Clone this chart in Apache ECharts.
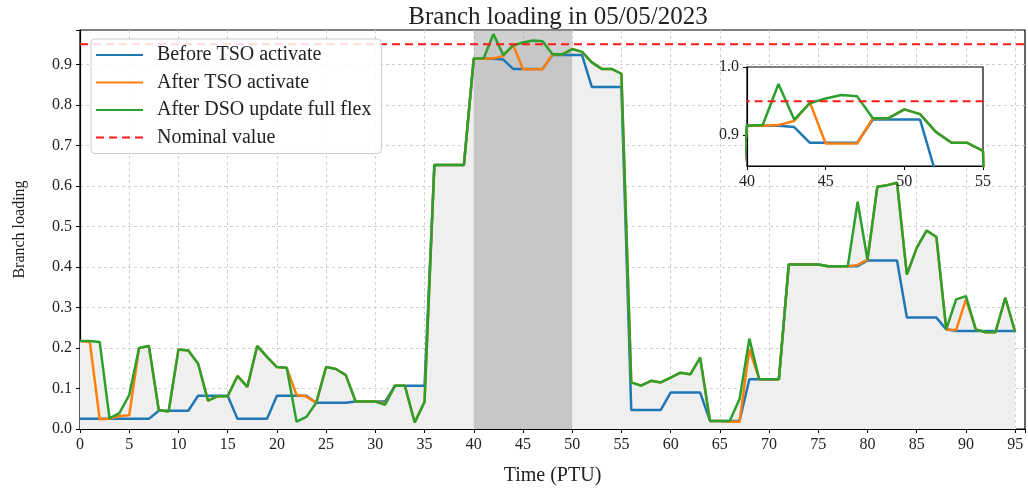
<!DOCTYPE html>
<html>
<head>
<meta charset="utf-8">
<script src="https://cdn.jsdelivr.net/npm/echarts@6/dist/echarts.min.js"></script>
<style>
html, body { margin: 0; padding: 0; background: #fff; }
#container { width: 1028px; height: 491px; }
</style>
</head>
<body>
<div id="container"></div>
<script>
// PTU index 0..95
var ptu = [];
for (var i = 0; i < 96; i++) { ptu.push(i); }

var beforeTSO = [
    0.025, 0.025, 0.025, 0.025, 0.025, 0.025, 0.025, 0.025, 0.045, 0.045,
    0.045, 0.045, 0.082, 0.082, 0.082, 0.082, 0.025, 0.025, 0.025, 0.025,
    0.082, 0.082, 0.082, 0.082, 0.065, 0.065, 0.065, 0.065, 0.068, 0.068,
    0.068, 0.068, 0.107, 0.107, 0.107, 0.107, 0.652, 0.652, 0.652, 0.652,
    0.914, 0.914, 0.914, 0.912, 0.889, 0.889, 0.889, 0.889, 0.923, 0.923,
    0.923, 0.923, 0.844, 0.844, 0.844, 0.844, 0.047, 0.047, 0.047, 0.047,
    0.090, 0.090, 0.090, 0.090, 0.020, 0.020, 0.020, 0.020, 0.123, 0.123,
    0.123, 0.123, 0.406, 0.406, 0.406, 0.406, 0.402, 0.402, 0.402, 0.402,
    0.416, 0.416, 0.416, 0.416, 0.275, 0.275, 0.275, 0.275, 0.246, 0.242,
    0.242, 0.242, 0.242, 0.242, 0.242, 0.242
];
var afterTSO = [
    0.217, 0.215, 0.024, 0.025, 0.032, 0.034, 0.200, 0.205, 0.047, 0.043,
    0.196, 0.194, 0.161, 0.070, 0.081, 0.081, 0.131, 0.104, 0.205, 0.178,
    0.153, 0.151, 0.084, 0.080, 0.065, 0.153, 0.148, 0.133, 0.068, 0.068,
    0.068, 0.063, 0.107, 0.107, 0.016, 0.067, 0.652, 0.652, 0.652, 0.652,
    0.914, 0.914, 0.915, 0.921, 0.948, 0.888, 0.888, 0.888, 0.925, 0.925,
    0.938, 0.931, 0.905, 0.889, 0.889, 0.877, 0.115, 0.107, 0.119, 0.115,
    0.127, 0.139, 0.135, 0.176, 0.020, 0.020, 0.018, 0.018, 0.197, 0.123,
    0.123, 0.123, 0.406, 0.406, 0.406, 0.406, 0.402, 0.402, 0.402, 0.405,
    0.418, 0.598, 0.602, 0.608, 0.381, 0.447, 0.490, 0.474, 0.246, 0.244,
    0.320, 0.246, 0.239, 0.239, 0.324, 0.239
];
var afterDSO = [
    0.217, 0.217, 0.215, 0.026, 0.039, 0.084, 0.200, 0.205, 0.047, 0.043,
    0.196, 0.194, 0.161, 0.070, 0.081, 0.081, 0.131, 0.104, 0.205, 0.178,
    0.153, 0.151, 0.018, 0.030, 0.065, 0.153, 0.148, 0.133, 0.068, 0.068,
    0.068, 0.060, 0.107, 0.107, 0.016, 0.067, 0.652, 0.652, 0.652, 0.652,
    0.914, 0.915, 0.975, 0.923, 0.947, 0.954, 0.959, 0.957, 0.925, 0.925,
    0.938, 0.931, 0.905, 0.889, 0.889, 0.877, 0.115, 0.107, 0.119, 0.115,
    0.127, 0.139, 0.135, 0.176, 0.020, 0.020, 0.020, 0.074, 0.223, 0.123,
    0.123, 0.123, 0.406, 0.406, 0.406, 0.406, 0.402, 0.402, 0.402, 0.561,
    0.418, 0.598, 0.602, 0.608, 0.381, 0.447, 0.490, 0.474, 0.246, 0.320,
    0.328, 0.246, 0.239, 0.239, 0.324, 0.239
];
var nominalValue = 0.95;
var shadeWindow = [40, 50];
var xTicks = [0, 96, 5];          // min, max, step
var yTicks = [0, 0.985, 0.1];
var insetX = [40, 55, 5];
var insetY = [0.855, 1.0];
var insetYLabels = [0.9, 1.0];

var names = ['Before TSO activate', 'After TSO activate', 'After DSO update full flex', 'Nominal value'];
var colors = ['#1f77b4', '#ff7f0e', '#2ca02c', '#ff1a1a'];
var serif = '"Liberation Serif", "DejaVu Serif", serif';

function pairs(vals) {
    var out = [];
    for (var i = 0; i < ptu.length; i++) { out.push([ptu[i], vals[i]]); }
    return out;
}
// upper envelope used for the grey fill
var envelope = [];
for (var i = 0; i < ptu.length; i++) {
    envelope.push(Math.max(beforeTSO[i], afterTSO[i], afterDSO[i]));
}
var nominalLine = [[xTicks[0], nominalValue], [xTicks[1], nominalValue]];
// dark band over the TSO window, full height
var shadeBand = [[shadeWindow[0], yTicks[1]], [shadeWindow[1], yTicks[1]]];

var gridLine = { show: true, showMinLine: false, showMaxLine: false, lineStyle: { color: '#cfcfcf', type: [3, 3], width: 1 } };

function lineSeries(name, data, color, axis, z) {
    return {
        name: name, type: 'line', data: data,
        xAxisIndex: axis, yAxisIndex: axis,
        symbol: 'none', z: z, silent: true, animation: false,
        lineStyle: { color: color, width: 2.5 },
        itemStyle: { color: color }
    };
}

var dom = document.getElementById("container");
var myChart = echarts.init(dom);
var option = {
    animation: false,
    title: {
        text: 'Branch loading in 05/05/2023',
        left: 553, top: 0, textAlign: 'center',
        textStyle: { fontFamily: serif, fontSize: 25, fontWeight: 'normal', color: '#222' }
    },
    legend: {
        data: names,
        orient: 'vertical',
        left: 91, top: 39,
        itemWidth: 47, itemHeight: 14, itemGap: 7.5,
        padding: [6, 10, 6, 4],
        backgroundColor: 'rgba(255,255,255,0.85)',
        borderColor: '#cccccc', borderWidth: 1, borderRadius: 4,
        itemStyle: { color: 'rgba(0,0,0,0)', borderColor: 'rgba(0,0,0,0)', borderWidth: 0 },
        textStyle: { fontFamily: serif, fontSize: 20, lineHeight: 20, color: '#222', padding: [0, 0, 0, 9] },
        z: 20
    },
    grid: [
        { left: 80, top: 30, width: 946, height: 400, show: true, borderColor: '#000', borderWidth: 1.2, z: 0 },
        { left: 747, top: 67, width: 236, height: 99, show: true, backgroundColor: '#fff', borderColor: '#000', borderWidth: 1.2, z: 10 }
    ],
    xAxis: [
        {
            type: 'value', gridIndex: 0, min: xTicks[0], max: xTicks[1], interval: xTicks[2],
            name: 'Time (PTU)', nameLocation: 'middle', nameGap: 37,
            nameTextStyle: { fontFamily: serif, fontSize: 20, color: '#222' },
            axisLine: { show: true, lineStyle: { color: '#000', width: 1.2 } },
            axisTick: { show: true, inside: false, length: 4, lineStyle: { color: '#000' } },
            axisLabel: {
                fontFamily: serif, fontSize: 16, color: '#222', margin: 8,
                formatter: function (v) { return v % 5 === 0 ? String(v) : ''; }
            },
            splitLine: gridLine
        },
        {
            type: 'value', gridIndex: 1, min: insetX[0], max: insetX[1], interval: insetX[2], z: 11,
            axisLine: { show: true, lineStyle: { color: '#000', width: 1.2 } },
            axisTick: { show: true, inside: false, length: 4, lineStyle: { color: '#000' } },
            axisLabel: { fontFamily: serif, fontSize: 16, color: '#222', margin: 8 },
            splitLine: { show: false }
        }
    ],
    yAxis: [
        {
            type: 'value', gridIndex: 0, min: yTicks[0], max: yTicks[1], interval: yTicks[2],
            name: 'Branch loading', nameLocation: 'middle', nameGap: 52,
            nameTextStyle: { fontFamily: serif, fontSize: 16, color: '#222' },
            axisLine: { show: true, lineStyle: { color: '#000', width: 1.2 } },
            axisTick: { show: true, inside: false, length: 4, lineStyle: { color: '#000' } },
            axisLabel: {
                fontFamily: serif, fontSize: 16, color: '#222', margin: 8,
                formatter: function (v) {
                    return Math.abs(v * 10 - Math.round(v * 10)) < 1e-6 ? v.toFixed(1) : '';
                }
            },
            splitLine: gridLine
        },
        {
            type: 'value', gridIndex: 1, min: insetY[0], max: insetY[1], z: 11,
            axisLine: { show: true, lineStyle: { color: '#000', width: 1.2 } },
            axisTick: { show: true, inside: false, length: 4, customValues: insetYLabels, lineStyle: { color: '#000' } },
            axisLabel: {
                fontFamily: serif, fontSize: 16, color: '#222', margin: 8, customValues: insetYLabels,
                formatter: function (v) { return v.toFixed(1); }
            },
            splitLine: { show: false }
        }
    ],
    series: [
        {
            name: 'fill', type: 'line', data: pairs(envelope), xAxisIndex: 0, yAxisIndex: 0,
            symbol: 'none', silent: true, z: 1, animation: false,
            lineStyle: { width: 0, opacity: 0 },
            areaStyle: { color: '#efefef', opacity: 1 }
        },
        {
            name: 'shade', type: 'line', data: shadeBand, xAxisIndex: 0, yAxisIndex: 0,
            symbol: 'none', silent: true, z: 2, animation: false,
            lineStyle: { width: 0, opacity: 0 },
            areaStyle: { color: 'rgba(150,150,150,0.45)', opacity: 1 }
        },
        lineSeries(names[0], pairs(beforeTSO), colors[0], 0, 3),
        lineSeries(names[1], pairs(afterTSO), colors[1], 0, 4),
        lineSeries(names[2], pairs(afterDSO), colors[2], 0, 5),
        {
            name: names[3], type: 'line', data: nominalLine, xAxisIndex: 0, yAxisIndex: 0,
            symbol: 'none', z: 6, silent: true, animation: false,
            lineStyle: { color: colors[3], width: 2, type: [8, 5] },
            itemStyle: { color: colors[3] }
        },
        lineSeries(names[0], pairs(beforeTSO), colors[0], 1, 13),
        lineSeries(names[1], pairs(afterTSO), colors[1], 1, 14),
        lineSeries(names[2], pairs(afterDSO), colors[2], 1, 15),
        {
            name: names[3], type: 'line', data: nominalLine, xAxisIndex: 1, yAxisIndex: 1,
            symbol: 'none', z: 16, silent: true, animation: false,
            lineStyle: { color: colors[3], width: 2, type: [8, 5] },
            itemStyle: { color: colors[3] }
        }
    ]
};
if (option && typeof option === "object") {
    myChart.setOption(option, true);
}
</script>
</body>
</html>
